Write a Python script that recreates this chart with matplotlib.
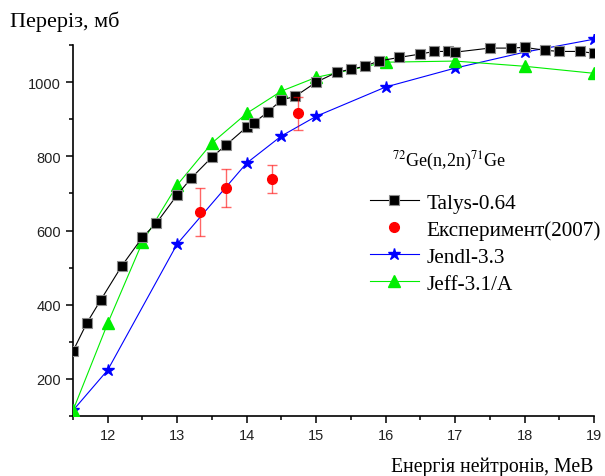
import matplotlib

matplotlib.use("Agg")
import matplotlib.pyplot as plt
from matplotlib.ticker import MultipleLocator

plt.rcParams["mathtext.fontset"] = "stix"

# --- data ------------------------------------------------------------------
talys_e = [11.5, 11.7, 11.9, 12.2, 12.5, 12.7, 13.0, 13.2, 13.5, 13.7, 14.0,
           14.1, 14.3, 14.5, 14.7, 15.0, 15.3, 15.5, 15.7, 15.9, 16.2, 16.5,
           16.7, 16.9, 17.0, 17.5, 17.8, 18.0, 18.3, 18.5, 18.8, 19.0]
talys_xs = [275, 351, 413, 504, 582, 620, 696, 741, 798, 830, 879,
            890, 919, 952, 962, 1000, 1027, 1035, 1043, 1057, 1067, 1076,
            1083, 1083, 1081, 1092, 1092, 1094, 1086, 1083, 1083, 1078]

exp_e = [13.33, 13.70, 14.37, 14.74]
exp_xs = [650, 714, 739, 916]
exp_err = [65, 51, 39, 45]

jendl_e = [11.5, 12.0, 13.0, 14.0, 14.5, 15.0, 16.0, 17.0, 18.0, 19.0]
jendl_xs = [115, 224, 564, 782, 855, 908, 987, 1038, 1081, 1116]

jeff_e = [11.5, 12.0, 12.5, 13.0, 13.5, 14.0, 14.5, 15.0, 16.0, 17.0, 18.0, 19.0]
jeff_xs = [115, 350, 569, 723, 836, 916, 976, 1013, 1054, 1057, 1043, 1024]

labels = ["Talys-0.64", "Експеримент(2007)", "Jendl-3.3", "Jeff-3.1/A"]

serif = "Liberation Serif"
sans = "Liberation Sans"

fig = plt.figure(figsize=(6.05, 4.77), dpi=100)
ax = fig.add_axes([73 / 605, 1 - 417 / 477, (594 - 73) / 605, (417 - 35) / 477])

ax.plot(jendl_e, jendl_xs, color="blue", lw=0.8, marker="*", ms=9,
        mfc="blue", mec="blue", label=labels[2], zorder=3)
ax.plot(jeff_e, jeff_xs, color="#00ee00", lw=0.8, marker="^", ms=8,
        mfc="#00ee00", mec="#00ee00", label=labels[3], zorder=3)
ax.plot(talys_e, talys_xs, color="black", lw=0.8, marker="s", ms=7,
        mfc="black", mec="0.55", mew=0.8, label=labels[0], zorder=4)
ax.errorbar(exp_e, exp_xs, yerr=exp_err, fmt="none", ecolor="red", alpha=0.6,
            elinewidth=1.0, capsize=3.5, capthick=1.0, zorder=5)
ax.plot(exp_e, exp_xs, ls="none", marker="o", ms=7, color="red", mec="red",
        label=labels[1], zorder=6)

ax.set_xlim(11.5, 19)
ax.set_ylim(100, 1130)
ax.spines["top"].set_visible(False)
ax.spines["right"].set_visible(False)
ax.spines["left"].set_bounds(100, 1100)
for s in ("left", "bottom"):
    ax.spines[s].set_linewidth(1.2)

ax.xaxis.set_major_locator(MultipleLocator(1))
ax.xaxis.set_minor_locator(MultipleLocator(0.5))
ax.set_yticks([200, 400, 600, 800, 1000])
ax.set_yticks(range(100, 1101, 100), minor=True)
ax.tick_params(which="major", direction="out", length=5, width=1.1,
               labelsize=10.5, colors="black")
ax.tick_params(which="minor", direction="out", length=3, width=1.1)
for t in ax.get_xticklabels() + ax.get_yticklabels():
    t.set_fontfamily(sans)
    t.set_color("#222222")

fig.text(10 / 605, 1 - 22 / 477, "Переріз, мб", family=serif, fontsize=16,
         ha="left", va="center")
fig.text(593 / 605, 1 - 467 / 477, "Енергія нейтронів, МеВ", family=serif,
         fontsize=14.2, ha="right", va="center")
fig.text(392 / 605, 1 - 161 / 477, r"$^{72}$Ge(n,2n)$^{71}$Ge", family=serif,
         fontsize=13, ha="left", va="center")

h, l = ax.get_legend_handles_labels()
hmap = dict(zip(l, h))
leg = ax.legend([hmap[x] for x in labels], labels, loc="upper left",
                bbox_to_anchor=(370 / 605, 1 - 194 / 477),
                bbox_transform=fig.transFigure, frameon=False, borderpad=0,
                handlelength=2.3, handletextpad=0.35, labelspacing=0.33,
                prop={"family": serif, "size": 15.3}, borderaxespad=0)

fig.savefig("out.png", dpi=100)
